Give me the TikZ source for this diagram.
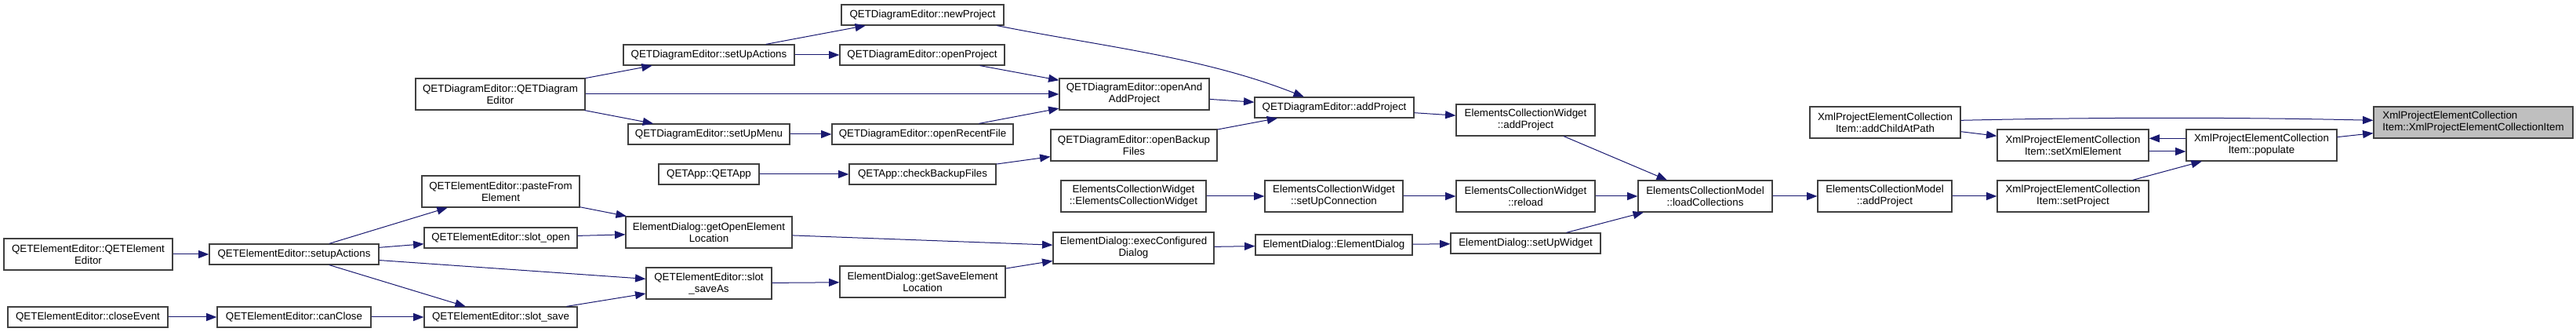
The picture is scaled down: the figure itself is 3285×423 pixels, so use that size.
\documentclass[tikz,border=0pt]{standalone}
\usepackage{fontspec}
\setmainfont{Liberation Sans}
\usepackage{tikz}
\usetikzlibrary{arrows.meta, positioning}
\definecolor{edgec}{HTML}{191970}
\definecolor{boxc}{HTML}{404040}
\definecolor{hitc}{HTML}{BFBFBF}

\begin{document}
\begin{tikzpicture}[x=0.75pt, y=-0.75pt, >={Triangle[length=10pt, width=7.5pt]},
    fn/.style={draw=boxc, line width=0.9pt, fill=white, inner sep=0pt,
      align=center, font=\fontsize{10}{11.25}\selectfont, minimum height=19.5pt},
    fn2/.style={fn, minimum height=30pt},
    boxw/.style={minimum width=#1*0.75pt},
    call/.style={->, draw=edgec, line width=0.75pt}]
    \useasboundingbox (0,0) rectangle (3285,423);
    % element editor
    \node[fn2, boxw=215] (eeCtor) at (112.5,324) {QETElementEditor::QETElement\\Editor};
    \node[fn, boxw=204] (eeClose) at (112,404) {QETElementEditor::closeEvent};
    \node[fn, boxw=216] (eeSetup) at (375,324) {QETElementEditor::setupActions};
    \node[fn, boxw=196] (eeCanClose) at (375,404) {QETElementEditor::canClose};
    \node[fn2, boxw=216] (deCtor) at (638,120) {QETDiagramEditor::QETDiagram\\Editor};
    \node[fn2, boxw=201] (eePaste) at (638.5,244) {QETElementEditor::pasteFrom\\Element};
    \node[fn, boxw=195] (eeOpen) at (638.5,303) {QETElementEditor::slot\_open};
    \node[fn, boxw=195] (eeSave) at (638.5,404) {QETElementEditor::slot\_save};
    % diagram editor, app, dialogs
    \node[fn, boxw=218] (deSetAct) at (904,70) {QETDiagramEditor::setUpActions};
    \node[fn, boxw=206] (deSetMenu) at (904,171) {QETDiagramEditor::setUpMenu};
    \node[fn, boxw=128] (appCtor) at (904,222) {QETApp::QETApp};
    \node[fn2, boxw=212] (dlgOpenLoc) at (904,296) {ElementDialog::getOpenElement\\Location};
    \node[fn2, boxw=160] (eeSaveAs) at (904,361) {QETElementEditor::slot\\\_saveAs};
    \node[fn, boxw=207] (deNew) at (1176.5,19) {QETDiagramEditor::newProject};
    \node[fn, boxw=210] (deOpen) at (1176,70) {QETDiagramEditor::openProject};
    \node[fn, boxw=231] (deRecent) at (1176.5,171) {QETDiagramEditor::openRecentFile};
    \node[fn, boxw=187] (appCheck) at (1176.5,222) {QETApp::checkBackupFiles};
    \node[fn2, boxw=211] (dlgSaveLoc) at (1176.5,359) {ElementDialog::getSaveElement\\Location};
    \node[fn2, boxw=191] (deOpenAdd) at (1446.5,120) {QETDiagramEditor::openAnd\\AddProject};
    \node[fn2, boxw=212] (deBackup) at (1446,185) {QETDiagramEditor::openBackup\\Files};
    \node[fn2, boxw=185] (ecwCtor) at (1445.5,250) {ElementsCollectionWidget\\::ElementsCollectionWidget};
    \node[fn2, boxw=205] (dlgExec) at (1445.5,316) {ElementDialog::execConfigured\\Dialog};
    \node[fn, boxw=203] (deAdd) at (1701.5,137) {QETDiagramEditor::addProject};
    \node[fn2, boxw=176] (ecwConn) at (1701,250) {ElementsCollectionWidget\\::setUpConnection};
    \node[fn, boxw=200] (dlgCtor) at (1701,312) {ElementDialog::ElementDialog};
    \node[fn2, boxw=177] (ecwAdd) at (1945.5,153) {ElementsCollectionWidget\\::addProject};
    \node[fn2, boxw=177] (ecwReload) at (1945.5,250) {ElementsCollectionWidget\\::reload};
    \node[fn, boxw=191] (dlgSetUp) at (1945.5,310) {ElementDialog::setUpWidget};
    % collection model and items
    \node[fn2, boxw=171] (ecmLoad) at (2174.5,250) {ElementsCollectionModel\\::loadCollections};
    \node[fn2, boxw=192] (xAddChild) at (2404,156) {XmlProjectElementCollection\\Item::addChildAtPath};
    \node[fn2, boxw=171] (ecmAdd) at (2403.5,250) {ElementsCollectionModel\\::addProject};
    \node[fn2, boxw=193] (xSetXml) at (2643.5,185) {XmlProjectElementCollection\\Item::setXmlElement};
    \node[fn2, boxw=193] (xSetProj) at (2643.5,250) {XmlProjectElementCollection\\Item::setProject};
    \node[fn2, boxw=192] (xPopulate) at (2884,185) {XmlProjectElementCollection\\Item::populate};
    \node[fn2, boxw=254, fill=hitc, align=left] (xItem) at (3154,156)
      {XmlProjectElementCollection\\Item::XmlProjectElementCollectionItem};
    % calls
    \foreach \a/\b in {eeCtor/eeSetup, eeClose/eeCanClose, eeCanClose/eeSave,
        eeSetup/eePaste, eeSetup/eeOpen, eeSetup/eeSaveAs, eeSetup/eeSave,
        eePaste/dlgOpenLoc, eeOpen/dlgOpenLoc, eeSave/eeSaveAs,
        deCtor/deSetAct, deCtor/deOpenAdd, deCtor/deSetMenu, deSetAct/deNew,
        deSetAct/deOpen, deSetMenu/deRecent, appCtor/appCheck,
        dlgOpenLoc/dlgExec, eeSaveAs/dlgSaveLoc, dlgSaveLoc/dlgExec,
        deOpen/deOpenAdd, deRecent/deOpenAdd, appCheck/deBackup,
        deOpenAdd/deAdd, deBackup/deAdd, ecwCtor/ecwConn, dlgExec/dlgCtor,
        deAdd/ecwAdd, ecwConn/ecwReload, dlgCtor/dlgSetUp, ecwAdd/ecmLoad,
        ecwReload/ecmLoad, dlgSetUp/ecmLoad, ecmLoad/ecmAdd, xAddChild/xSetXml,
        ecmAdd/xSetProj, xSetProj/xPopulate, xPopulate/xItem}
      \draw[call] (\a) -- (\b);
    \draw[call] ([xshift=-7pt]deNew.south east) .. controls +(130,26) and +(-129,-51)
      .. ([xshift=-29pt]deAdd.north);
    \draw[call] ([yshift=2pt]xAddChild.east) .. controls +(175,-4) and +(-175,-4)
      .. ([yshift=2pt]xItem.west);
    \draw[call] ([yshift=6.5pt]xPopulate.west) -- ([yshift=6.5pt]xSetXml.east);
    \draw[call] ([yshift=-6pt]xSetXml.east) -- ([yshift=-6pt]xPopulate.west);
  \end{tikzpicture}
\end{document}
